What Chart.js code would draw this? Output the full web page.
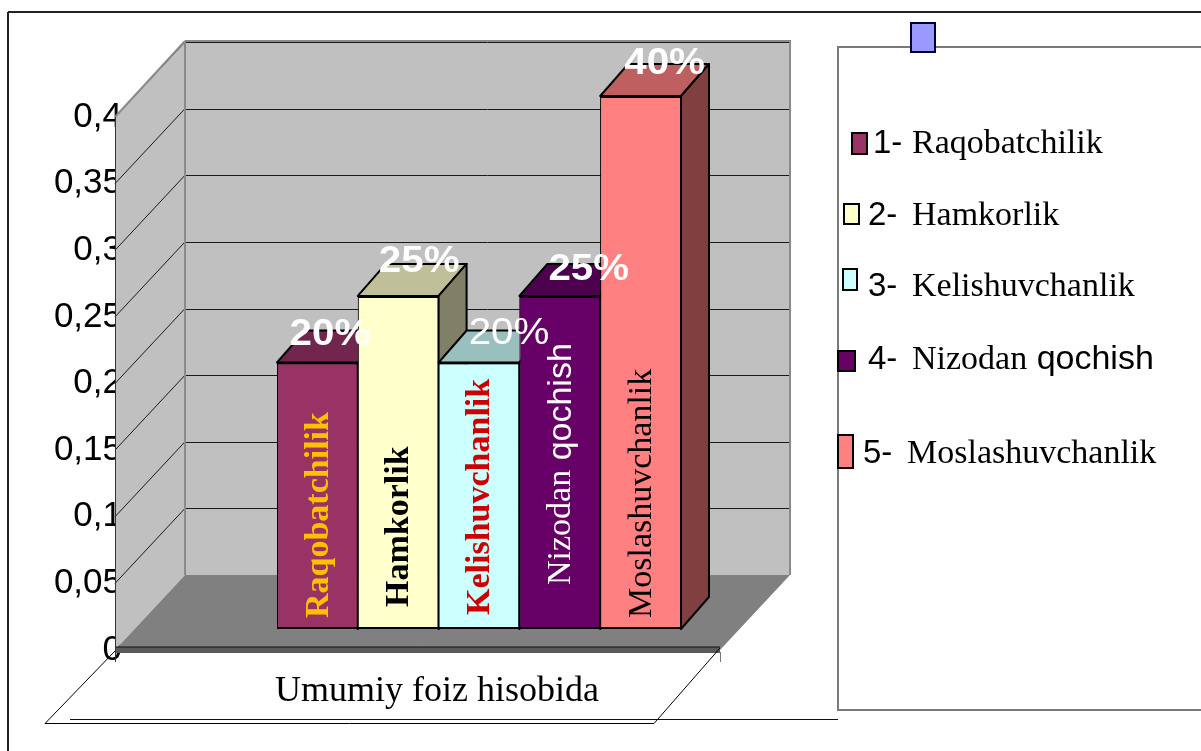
<!DOCTYPE html>
<html><head><meta charset="utf-8">
<script src="https://cdn.jsdelivr.net/npm/chart.js@4/dist/chart.umd.min.js"></script>
<style>html,body{margin:0;padding:0;background:#fff;overflow:hidden}canvas{display:block}</style>
</head><body>
<canvas id="c" width="1201" height="751" style="width:1201px;height:751px"></canvas>
<script>
// ---------- data ----------
const categories = ['Umumiy foiz hisobida'];
const seriesNames = ['Raqobatchilik', 'Hamkorlik', 'Kelishuvchanlik', 'Nizodan qochish', 'Moslashuvchanlik'];
const seriesValues = [0.20, 0.25, 0.20, 0.25, 0.40];
const valueLabels = ['20%', '25%', '20%', '25%', '40%'];
const yMin = 0, yMax = 0.4, yStep = 0.05;

// ---------- styles ----------
const barColors = ['#993366', '#FFFFCC', '#CCFFFF', '#660066', '#FF8080'];
const barTextColors = ['#FFC000', '#000000', '#CC0000', '#FFFFFF', '#000000'];
const barTextBold = [true, true, true, false, false];
const barTextLift = [11, 22, 14, 44, 11];
const valueLabelBold = [true, true, false, true, true];
const valueLabelShift = [[-1.5, -11], [7, -18], [16, -12], [15, -10], [10, -16]];
const sansWords = ['qochish'];
const SERIF = 'Liberation Serif', SANS = 'Liberation Sans';

const DEPTH = {dx: 28, dy: -32};
const BACK = {dx: 50, dy: -54};
const FRONT = {dx: -20, dy: 21};
const PLANE = {left: 135, right: 740};

const legendLayout = [
  {box: [852, 133, 15, 21], px: 873, nx: 912, base: 153},
  {box: [844, 204, 15, 20], px: 868, nx: 912, base: 225},
  {box: [843, 269, 14, 21], px: 868, nx: 912, base: 296},
  {box: [838, 351, 17, 20], px: 868, nx: 912, base: 369},
  {box: [838, 435, 15, 33], px: 863, nx: 907, base: 463}
];

function shade(hex, f) {
  const n = parseInt(hex.slice(1), 16);
  return 'rgb(' + Math.round(((n >> 16) & 255) * f) + ',' + Math.round(((n >> 8) & 255) * f) + ',' + Math.round((n & 255) * f) + ')';
}
function poly(ctx, pts, fill, stroke, lw) {
  ctx.beginPath();
  pts.forEach((p, i) => i ? ctx.lineTo(p[0], p[1]) : ctx.moveTo(p[0], p[1]));
  ctx.closePath();
  if (fill) { ctx.fillStyle = fill; ctx.fill(); }
  if (stroke) { ctx.strokeStyle = stroke; ctx.lineWidth = lw || 1; ctx.stroke(); }
}
function line(ctx, x1, y1, x2, y2, color, lw) {
  ctx.beginPath(); ctx.moveTo(x1, y1); ctx.lineTo(x2, y2);
  ctx.strokeStyle = color; ctx.lineWidth = lw || 1; ctx.stroke();
}
function drawMixed(ctx, text, x, y, size, bold) {
  const parts = text.split(' ');
  let cx = x;
  parts.forEach((w, i) => {
    const s = (i ? ' ' : '') + w;
    const fam = sansWords.includes(w) ? SANS : SERIF;
    ctx.font = (bold ? 'bold ' : '') + size + 'px "' + fam + '"';
    ctx.fillText(s, cx, y);
    cx += ctx.measureText(s).width;
  });
}

const fmt = v => Number(v.toFixed(2)).toString().replace('.', ',');

const excel3d = {
  id: 'excel3d',
  beforeDatasetsDraw(chart) {
    const ctx = chart.ctx, ys = chart.scales.y;
    const bl = PLANE.left + BACK.dx, br = PLANE.right + BACK.dx;
    const fl = PLANE.left + FRONT.dx, fr = PLANE.right + FRONT.dx;
    const by = v => ys.getPixelForValue(v) + BACK.dy;
    const fy = v => ys.getPixelForValue(v) + FRONT.dy;
    ctx.save();
    ctx.fillStyle = '#C0C0C0';
    ctx.fillRect(bl, by(yMax), br - bl, by(yMin) - by(yMax));
    poly(ctx, [[fl, fy(yMax)], [bl, by(yMax)], [bl, by(yMin)], [fl, fy(yMin)]], '#C0C0C0');
    poly(ctx, [[bl, by(yMin)], [br, by(yMin)], [fr, fy(yMin)], [fl, fy(yMin)]], '#808080');
    ctx.fillStyle = '#5a5a5a';
    ctx.fillRect(fl, fy(yMin) - 3, fr - fl, 6);
    line(ctx, fl, fy(yMin) - 3, fr, fy(yMin) - 3, '#111', 1);
    ys.ticks.forEach(t => {
      if (t.value <= yMin) return;
      const yb = Math.round(by(t.value)) + 0.5;
      line(ctx, bl, yb, br, yb, '#1a1a1a', 1);
      line(ctx, fl, fy(t.value), bl, by(t.value), '#1a1a1a', 1);
    });
    line(ctx, bl, by(yMax) - 1, br + 1, by(yMax) - 1, '#8a8a8a', 2);
    line(ctx, bl, by(yMax) - 1, bl, by(yMin), '#8a8a8a', 2);
    line(ctx, br, by(yMax) - 1, br, by(yMin), '#8a8a8a', 2);
    line(ctx, fl, fy(yMax), bl, by(yMax) - 1, '#8a8a8a', 2);
    line(ctx, fl + 0.5, fy(yMax), fl + 0.5, fy(yMin) + 12, '#333', 1);
    line(ctx, fr + 0.5, fy(yMin) + 2, fr + 0.5, fy(yMin) + 12, '#777', 1);
    ctx.restore();
  },
  afterDatasetsDraw(chart) {
    const ctx = chart.ctx;
    const items = [];
    chart.getSortedVisibleDatasetMetas().forEach(meta => {
      meta.data.forEach(el => items.push({el, i: meta.index}));
    });
    items.sort((a, b) => a.el.x - b.el.x);
    ctx.save();
    ctx.lineJoin = 'round';
    items.forEach(({el, i}) => {
      el.draw(ctx);
      const l = el.x - el.width / 2, r = el.x + el.width / 2, t = el.y, b = el.base;
      const c = barColors[i];
      poly(ctx, [[l, t], [r, t], [r + DEPTH.dx, t + DEPTH.dy], [l + DEPTH.dx, t + DEPTH.dy]], shade(c, 0.75), '#000', 2);
      poly(ctx, [[r, t], [r + DEPTH.dx, t + DEPTH.dy], [r + DEPTH.dx, b + DEPTH.dy], [r, b]], shade(c, 0.5), '#000', 2);
    });
    items.forEach(({el, i}) => {
      ctx.save();
      ctx.translate(el.x + 1.5, el.base - barTextLift[i]);
      ctx.rotate(-Math.PI / 2);
      ctx.textAlign = 'left';
      ctx.textBaseline = 'middle';
      ctx.fillStyle = barTextColors[i];
      drawMixed(ctx, seriesNames[i], 0, 0, 34, barTextBold[i]);
      ctx.restore();
    });
    items.forEach(({el, i}) => {
      ctx.save();
      ctx.translate(el.x + DEPTH.dx / 2 + valueLabelShift[i][0], el.y + DEPTH.dy / 2 + valueLabelShift[i][1]);
      ctx.scale(1.12, 1);
      ctx.font = (valueLabelBold[i] ? 'bold ' : '') + '36px "' + SANS + '"';
      ctx.fillStyle = '#FFFFFF';
      ctx.textAlign = 'center';
      ctx.textBaseline = 'middle';
      ctx.fillText(valueLabels[i], 0, 0);
      ctx.restore();
    });
    ctx.restore();
  },
  afterDraw(chart) {
    const ctx = chart.ctx, ys = chart.scales.y;
    const fl = PLANE.left + FRONT.dx, fr = PLANE.right + FRONT.dx;
    const fy0 = ys.getPixelForValue(yMin) + FRONT.dy;
    ctx.save();
    line(ctx, fl, fy0 + 1, 45, 723.5, '#000', 1);
    line(ctx, fr, fy0 - 2, 654, 723.5, '#000', 1);
    line(ctx, 45, 723.5, 654, 723.5, '#000', 1);
    line(ctx, 70, 719.5, 838, 719.5, '#111', 1);
    line(ctx, 8, 12, 1201, 12, '#222', 2);
    line(ctx, 8, 12, 8, 751, '#222', 2);
    ctx.strokeStyle = '#7a7a7a'; ctx.lineWidth = 2;
    ctx.strokeRect(838, 47, 400, 663);
    ctx.fillStyle = '#9999FF';
    ctx.fillRect(911, 23, 24, 29);
    ctx.strokeStyle = '#000033'; ctx.lineWidth = 2;
    ctx.strokeRect(911, 23, 24, 29);
    ctx.textAlign = 'left';
    ctx.textBaseline = 'alphabetic';
    seriesNames.forEach((name, i) => {
      const L = legendLayout[i];
      ctx.fillStyle = barColors[i];
      ctx.fillRect(L.box[0], L.box[1], L.box[2], L.box[3]);
      ctx.strokeStyle = '#000'; ctx.lineWidth = 2;
      ctx.strokeRect(L.box[0], L.box[1], L.box[2], L.box[3]);
      ctx.fillStyle = '#000';
      ctx.font = '33px "' + SANS + '"';
      ctx.fillText((i + 1) + '-', L.px, L.base);
      drawMixed(ctx, name, L.nx, L.base, 34, false);
    });
    ctx.restore();
  }
};

const datasets = seriesNames.map((name, i) => ({
  label: name,
  data: [seriesValues[i]],
  backgroundColor: barColors[i],
  borderColor: '#000',
  borderWidth: {top: 2, bottom: 2, left: 1, right: 1},
  borderSkipped: false,
  categoryPercentage: 0.5872,
  barPercentage: 1
}));

new Chart(document.getElementById('c'), {
  type: 'bar',
  data: {labels: categories, datasets},
  options: {
    responsive: false,
    animation: false,
    devicePixelRatio: 1,
    layout: {padding: {top: 96, right: 378, bottom: 0, left: 0}},
    plugins: {legend: {display: false}, tooltip: {enabled: false}},
    scales: {
      x: {
        type: 'category',
        grid: {display: false, drawTicks: false},
        border: {display: false},
        ticks: {
          font: {family: SERIF, size: 36},
          color: '#000',
          padding: 41,
          labelOffset: -42,
          maxRotation: 0
        },
        afterFit: s => { s.height = 122; }
      },
      y: {
        min: yMin, max: yMax,
        grid: {display: false, drawTicks: false},
        border: {display: false},
        ticks: {
          stepSize: yStep,
          font: {family: SANS, size: 35},
          color: '#000',
          padding: 13,
          labelOffset: 21,
          callback: v => fmt(v)
        },
        afterFit: s => { s.width = 135; }
      }
    }
  },
  plugins: [excel3d]
});
</script>
</body></html>
